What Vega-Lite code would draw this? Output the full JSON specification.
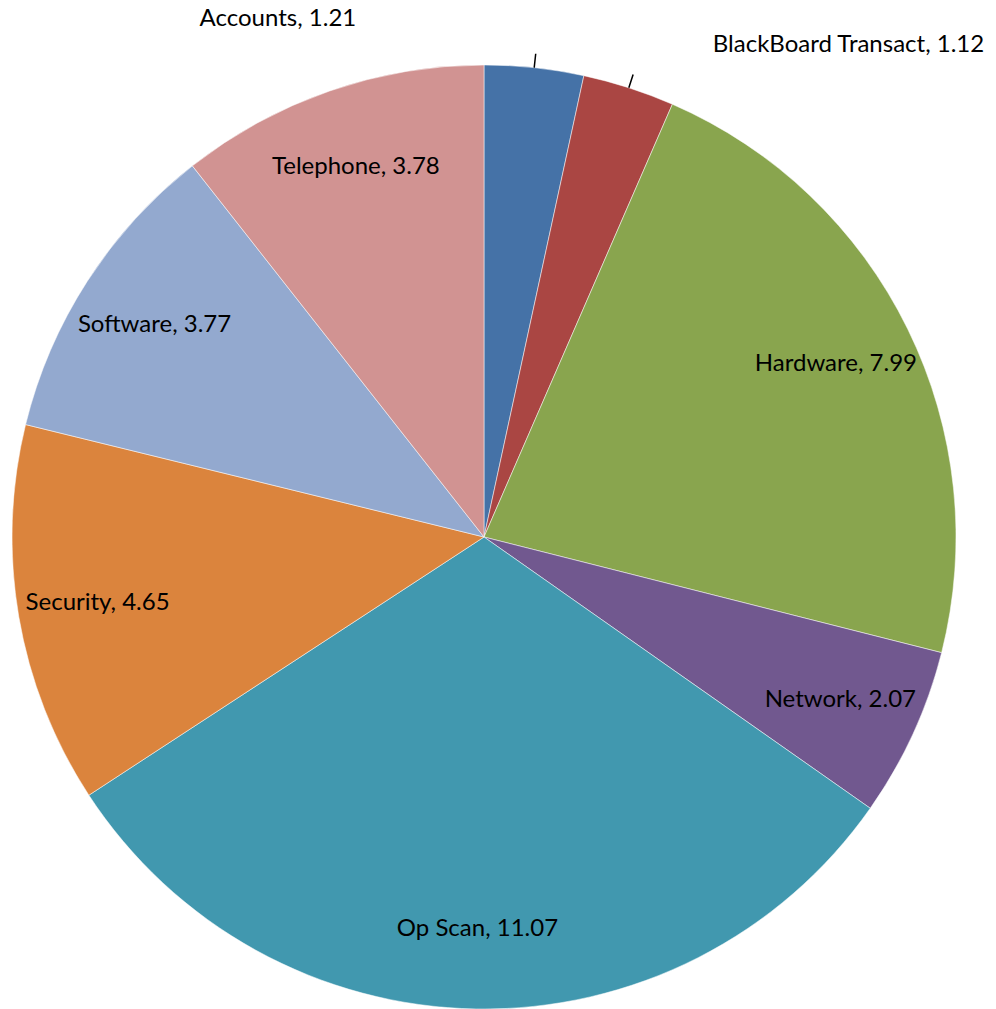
{
  "$schema": "https://vega.github.io/schema/vega-lite/v6.json",
  "width": 944,
  "height": 944,
  "autosize": "none",
  "padding": {"left": 12, "top": 65, "right": 40, "bottom": 0},
  "background": "white",
  "config": {"view": {"stroke": null}},
  "data": {
    "values": [
      {"i": 1, "category": "Accounts", "value": 1.21},
      {"i": 2, "category": "BlackBoard Transact", "value": 1.12},
      {"i": 3, "category": "Hardware", "value": 7.99},
      {"i": 4, "category": "Network", "value": 2.07},
      {"i": 5, "category": "Op Scan", "value": 11.07},
      {"i": 6, "category": "Security", "value": 4.65},
      {"i": 7, "category": "Software", "value": 3.77},
      {"i": 8, "category": "Telephone", "value": 3.78}
    ]
  },
  "transform": [
    {"stack": "value", "groupby": [], "sort": [{"field": "i", "order": "ascending"}], "as": ["v0", "v1"]},
    {"calculate": "(datum.v0 + datum.v1) / 2", "as": "mid"},
    {"calculate": "datum.category + ', ' + format(datum.value, '.2f')", "as": "label"}
  ],
  "layer": [
    {
      "mark": {"type": "arc", "stroke": "white", "strokeWidth": 0.5},
      "encoding": {
        "theta": {"field": "v0", "type": "quantitative", "stack": null, "scale": {"domain": [0, 35.66]}},
        "theta2": {"field": "v1"},
        "color": {
          "field": "category",
          "type": "nominal",
          "scale": {
            "domain": ["Accounts", "BlackBoard Transact", "Hardware", "Network", "Op Scan", "Security", "Software", "Telephone"],
            "range": ["#4572A7", "#AA4643", "#89A54E", "#71588F", "#4198AF", "#DB843D", "#93A9CF", "#D19392"]
          },
          "legend": null
        }
      }
    },
    {
      "transform": [{"filter": "datum.value >= 2"}],
      "mark": {"type": "text", "radius": 392, "font": "Lato", "fontSize": 24, "color": "black", "align": "center", "baseline": "middle"},
      "encoding": {
        "theta": {"field": "mid", "type": "quantitative", "stack": null},
        "text": {"field": "label"}
      }
    },
    {
      "transform": [{"filter": "datum.category === 'Accounts'"}],
      "mark": {"type": "text", "radius": 472, "font": "Lato", "fontSize": 24, "color": "black", "align": "right", "baseline": "middle", "dx": -178, "dy": -49},
      "encoding": {
        "theta": {"field": "mid", "type": "quantitative", "stack": null},
        "text": {"field": "label"}
      }
    },
    {
      "transform": [{"filter": "datum.category === 'BlackBoard Transact'"}],
      "mark": {"type": "text", "radius": 472, "font": "Lato", "fontSize": 24, "color": "black", "align": "left", "baseline": "middle", "dx": 84, "dy": -43},
      "encoding": {
        "theta": {"field": "mid", "type": "quantitative", "stack": null},
        "text": {"field": "label"}
      }
    },
    {
      "transform": [{"filter": "datum.value < 2"}],
      "mark": {"type": "arc", "radius": 486, "radius2": 472, "filled": false, "stroke": "black", "strokeWidth": 1.5},
      "encoding": {
        "theta": {"field": "mid", "type": "quantitative", "stack": null},
        "theta2": {"field": "mid"}
      }
    }
  ]
}
